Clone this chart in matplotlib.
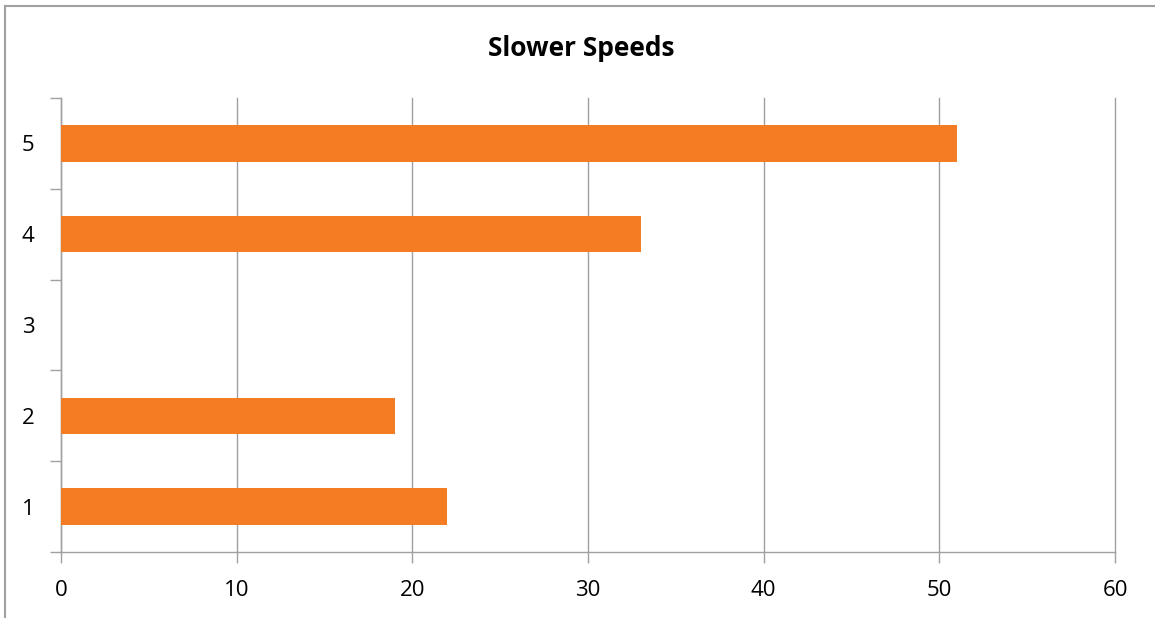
import matplotlib
matplotlib.use("Agg")
import matplotlib.pyplot as plt
from matplotlib.lines import Line2D
import numpy as np

# data
categories = ["1", "2", "3", "4", "5"]
values = [22, 19, 0, 33, 51]
x_ticks = [0, 10, 20, 30, 40, 50, 60]

plt.rcParams['font.family'] = ['Open Sans', 'DejaVu Sans']

fig = plt.figure(figsize=(11.55, 6.18), dpi=100)
ax = fig.add_axes([61 / 1155, 66 / 618, 1054 / 1155, 454 / 618])

grey = '#a0a0a0'
pos = np.arange(len(categories))
ax.barh(pos, values, height=0.4, color='#f47c22', zorder=3)

ax.set_xlim(0, 60)
ax.set_ylim(-0.5, len(categories) - 0.5)
ax.set_xticks(x_ticks)
ax.set_xticklabels([str(t) for t in x_ticks])
ax.set_yticks(pos)
ax.set_yticklabels(categories)
ax.set_yticks(np.arange(-0.5, len(categories)), minor=True)

ax.xaxis.grid(True, color=grey, linewidth=1, zorder=0)
for gl in ax.get_xgridlines():
    gl.set_clip_on(False)
ax.tick_params(axis='x', length=8, color=grey, width=1, pad=12.5, labelsize=16)
ax.tick_params(axis='y', which='major', length=0, pad=19, labelsize=16)
ax.tick_params(axis='y', which='minor', length=8, color=grey, width=1)

for side in ['top', 'right']:
    ax.spines[side].set_visible(False)
for side in ['left', 'bottom']:
    ax.spines[side].set_color(grey)
    ax.spines[side].set_linewidth(1)

fig.text(0.503, 1 - 49 / 618, "Slower Speeds", ha='center', va='center',
         fontsize=19, fontweight='bold')

# outer chart border
fig.add_artist(Line2D([5 / 1155, 5 / 1155], [0, 1 - 6 / 618],
                      transform=fig.transFigure, color=grey, linewidth=1.5))
fig.add_artist(Line2D([5 / 1155, 1], [1 - 6 / 618, 1 - 6 / 618],
                      transform=fig.transFigure, color=grey, linewidth=1.5))

fig.savefig("out.png", dpi=100)
